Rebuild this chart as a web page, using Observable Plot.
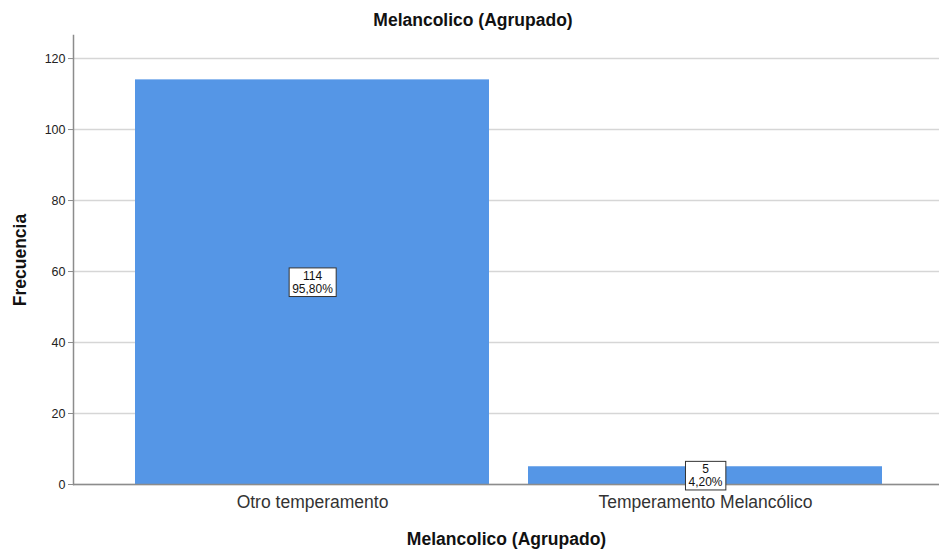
<!DOCTYPE html>
<html>
<head>
<meta charset="utf-8">
<script src="https://cdn.jsdelivr.net/npm/d3@7"></script>
<script src="https://cdn.jsdelivr.net/npm/@observablehq/plot@0.6"></script>
<style>
  html, body { margin: 0; padding: 0; background: white; }
</style>
</head>
<body>
<div id="chart"></div>
<script>
const categories = ["Otro temperamento", "Temperamento Melancólico"];
const counts = [114, 5];
const percents = ["95,80%", "4,20%"];
const yTicks = [0, 20, 40, 60, 80, 100, 120];
const titleText = "Melancolico (Agrupado)";
const xLabel = "Melancolico (Agrupado)";
const yLabel = "Frecuencia";

const data = categories.map((c, i) => ({cat: c, count: counts[i], pct: percents[i]}));

const font = "'Liberation Sans', Arial, sans-serif";

const chart = Plot.plot({
  width: 939,
  height: 550,
  marginLeft: 73,
  marginRight: 0,
  marginTop: 35,
  marginBottom: 66,
  style: {fontFamily: font, background: "white", color: "#222"},
  x: {domain: categories, range: [95, 922], padding: 0.1, label: null},
  y: {domain: [0, 126.5], label: null},
  marks: [
    Plot.gridY(yTicks, {stroke: "#d6d6d6", strokeOpacity: 1, strokeWidth: 1.5}),
    Plot.barY(data, {x: "cat", y: "count", fill: "#5596e6"}),
    Plot.ruleY([0], {stroke: "#8c8c8c", strokeWidth: 1.5}),
    Plot.frame({anchor: "left", stroke: "#8c8c8c", strokeWidth: 1.5}),
    Plot.axisY(yTicks, {tickSize: 5, tickPadding: 3, fontSize: 12.5, stroke: "#8c8c8c", fill: "#222", label: null}),
    Plot.axisX({tickSize: 0, tickPadding: 11, fontSize: 17.5, fill: "#333", label: null}),
    Plot.text(data, {
      x: "cat",
      y: d => d.count / 2,
      text: d => `${d.count}\n${d.pct}`,
      fontSize: 12,
      lineHeight: 1.05,
      fill: "#111",
      ariaLabel: "bar-labels"
    }),
    Plot.text([titleText], {frameAnchor: "top", lineAnchor: "middle", dx: -33.5, dy: -15, fontSize: 17.5, fontWeight: "bold", fill: "#111"}),
    Plot.text([xLabel], {frameAnchor: "bottom", lineAnchor: "middle", dy: 55, fontSize: 17.5, fontWeight: "bold", fill: "#111"}),
    Plot.text([yLabel], {frameAnchor: "left", textAnchor: "middle", lineAnchor: "middle", rotate: -90, dx: -53, fontSize: 17.5, fontWeight: "bold", fill: "#111"})
  ]
});

document.getElementById("chart").appendChild(chart);

// Draw white boxes behind the bar labels
const ns = "http://www.w3.org/2000/svg";
Array.from(chart.querySelectorAll("text"))
  .filter(t => t.textContent.includes("%"))
  .forEach(t => {
    const b = t.getBBox();
    const r = document.createElementNS(ns, "rect");
    const px = 3, py = 1;
    r.setAttribute("x", b.x - px);
    r.setAttribute("y", b.y - py);
    r.setAttribute("width", b.width + 2 * px);
    r.setAttribute("height", b.height + 2 * py);
    r.setAttribute("fill", "white");
    r.setAttribute("stroke", "#333");
    r.setAttribute("stroke-width", "1");
    const tr = t.getAttribute("transform");
    if (tr) r.setAttribute("transform", tr);
    t.parentNode.insertBefore(r, t);
  });
</script>
</body>
</html>
